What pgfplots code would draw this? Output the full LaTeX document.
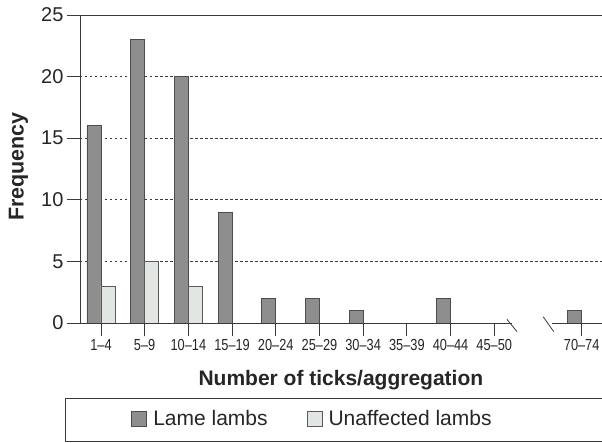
\documentclass[border=0pt]{standalone}
\usepackage{fontspec}
\setmainfont{Liberation Sans}
\newfontfamily\narrowfont{Liberation Sans}[FakeStretch=0.80]
\usepackage{pgfplots}
\pgfplotsset{compat=1.18}
\definecolor{lame}{HTML}{8E8E8E}
\definecolor{lameedge}{HTML}{4D4D4D}
\definecolor{unaff}{HTML}{E2E6E2}
\definecolor{unaffedge}{HTML}{5A5A5A}
\definecolor{axisgray}{HTML}{3A3A3A}
\begin{document}
\begin{tikzpicture}
\begin{axis}[
  at={(0pt,0pt)}, anchor=south west,
  x=43.7pt, y=12.32pt,
  xmin=-0.48, xmax=11.46, ymin=0, ymax=25,
  axis lines=left,
  axis line style={-, axisgray, line width=0.8pt},
  x axis line style={draw=none},
  clip=false,
  tick align=outside,
  major tick length=13pt,
  tick style={axisgray, line width=0.8pt},
  ytick={5,10,15,20},
  yticklabels={5,10,15,20},
  extra y ticks={0,25},
  extra y tick labels={0,25},
  extra y tick style={grid=none},
  ymajorgrids,
  grid style={axisgray, line width=0.7pt, dash pattern=on 2.5pt off 2.5pt},
  xtick={0,1,2,3,4,5,6,7,8,9,11},
  xticklabels={1–4,5–9,10–14,15–19,20–24,25–29,30–34,35–39,40–44,45–50,70–74},
  x tick label style={font=\narrowfont\fontsize{16}{16}\selectfont, text=black!85},
  y tick label style={font=\fontsize{20}{20}\selectfont, text=black!85},
  xlabel={Number of ticks/aggregation},
  ylabel={Frequency},
  xlabel style={font=\bfseries\fontsize{21}{21}\selectfont, text=black!85, at={(axis description cs:0.5,-0.185)}, anchor=center},
  ylabel style={font=\bfseries\fontsize{21.5}{21.5}\selectfont, text=black!85, at={(axis description cs:-0.118,0.508)}, anchor=center},
  legend columns=2,
  legend style={at={(axis description cs:0.4456,-0.3117)}, anchor=center,
    draw=none, fill=none, font=\fontsize{21}{21}\selectfont, text=black!85,
    /tikz/every odd column/.append style={column sep=4pt},
    /tikz/every even column/.append style={column sep=37pt}},
]
\addplot[ybar, bar width=14pt, bar shift=-7pt, fill=lame, draw=lameedge, line width=0.9pt,
  legend image code/.code={\draw[fill=lame, draw=lameedge, line width=0.9pt] (0pt,-7.5pt) rectangle (15pt,7.5pt);}]
  coordinates {(0,16) (1,23) (2,20) (3,9) (4,2) (5,2) (6,1) (8,2) (11,1)};
\addlegendentry{Lame lambs}
\addplot[ybar, bar width=14pt, bar shift=7pt, fill=unaff, draw=unaffedge, line width=0.9pt,
  legend image code/.code={\draw[fill=unaff, draw=unaffedge, line width=0.9pt] (0pt,-7.5pt) rectangle (15pt,7.5pt);}]
  coordinates {(0,3) (1,5) (2,3)};
\addlegendentry{Unaffected lambs}
% axis lines with break
\draw[axisgray, line width=0.8pt] (axis cs:-0.48,25) -- (axis cs:11.46,25);
\draw[axisgray, line width=0.8pt] (axis cs:-0.48,0) -- (axis cs:9.41,0);
\draw[axisgray, line width=0.8pt] (axis cs:10.33,0) -- (axis cs:11.46,0);
\draw[axisgray, line width=0.8pt] (axis cs:9.29,0.3) -- (axis cs:9.52,-0.7);
\draw[axisgray, line width=0.8pt] (axis cs:10.12,0.5) -- (axis cs:10.36,-0.7);
\end{axis}
\draw[axisgray, line width=0.9pt] (530pt,-75pt) -- (-15pt,-75pt) -- (-15pt,-118pt) -- (530pt,-118pt);
\pgfresetboundingbox
\useasboundingbox (-80pt,-120pt) rectangle (522pt,323pt);
\end{tikzpicture}
\end{document}
